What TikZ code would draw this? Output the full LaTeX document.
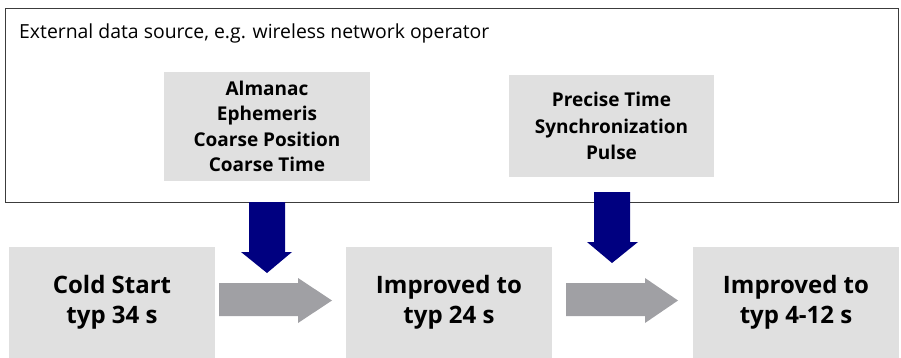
\documentclass[tikz,border=0pt]{standalone}
\usepackage{fontspec}
\setmainfont{Open Sans}
\definecolor{boxgray}{HTML}{E0E0E0}
\definecolor{arrgray}{HTML}{A0A0A4}
\definecolor{navyblue}{HTML}{000080}
\definecolor{framecol}{HTML}{3C3C3C}
\tikzset{
  frame/.style={draw=framecol, line width=1.3pt},
  graybox/.style={fill=boxgray, draw=none, align=center, inner sep=0pt, font=\bfseries},
  infobox/.style={graybox, font=\bfseries\fontsize{19}{25.3}\selectfont},
  stagebox/.style={graybox, minimum width=206pt, minimum height=111pt, font=\bfseries\fontsize{24}{30}\selectfont},
  bluearrow/.style={fill=navyblue, draw=none},
  grayarrow/.style={fill=arrgray, draw=none}
}
\begin{document}
\begin{tikzpicture}[x=1pt,y=-1pt]
\useasboundingbox (0,0) rectangle (901,358);
\node[frame, minimum width=893pt, minimum height=194pt, inner sep=0pt, anchor=north west] (src) at (5,8) {};
\node[anchor=west, inner sep=0pt, font=\fontsize{19.4}{23}\selectfont] (ext) at (19,33) {External data source, e.g. wireless network operator};
\node[infobox, minimum width=206pt, minimum height=109pt] (alm) at (267,126.5) {Almanac\\Ephemeris\\Coarse Position\\Coarse Time};
\node[infobox, minimum width=205pt, minimum height=102pt, font=\bfseries\fontsize{19}{26.5}\selectfont] (pts) at (611.5,126) {Precise Time\\Synchronization\\Pulse};
\node[stagebox] (cold) at (112,302.5) {Cold Start\\typ 34 s};
\node[stagebox] (imp1) at (449,302.5) {Improved to\\typ 24 s};
\node[stagebox] (imp2) at (796,302.5) {Improved to\\typ 4-12 s};
% blue arrows
\coordinate (b1) at (267,202);
\fill[bluearrow] (b1) ++(-18,0) -- ++(36,0) -- ++(0,50) -- ++(7,0) -- (267,273) -- (241,252) -- (249,252) -- cycle;
\coordinate (b2) at (612,192);
\fill[bluearrow] (b2) ++(-18,0) -- ++(36,0) -- ++(0,50) -- ++(8,0) -- (612,263) -- (587,242) -- (594,242) -- cycle;
% gray arrows
\fill[grayarrow] (cold.east) ++(4,-19.5) -- (298,283) -- (298,278) -- (332,300.5) -- (298,323) -- (298,316) -- (219,316) -- cycle;
\fill[grayarrow] (imp1.east) ++(14,-19.5) -- (645,283) -- (645,278) -- (678,300.5) -- (645,323) -- (645,316) -- (566,316) -- cycle;
\end{tikzpicture}
\end{document}
